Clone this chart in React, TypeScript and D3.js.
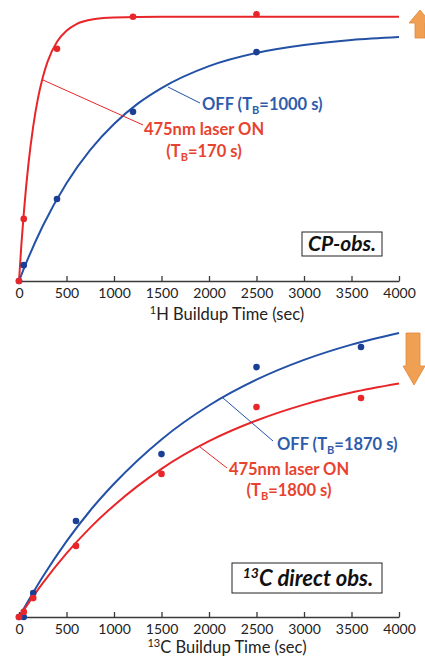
import { useRef, useEffect } from "react";
import * as d3 from "d3";

// ---- data ----
const xTicks = [0, 500, 1000, 1500, 2000, 2500, 3000, 3500, 4000];

// 1H (CP-obs.) panel: measured points
const hOnPoints: [number, number][] = [[0, 0], [50, 0.235], [400, 0.879], [1200, 1.0], [2500, 1.009]];
const hOffPoints: [number, number][] = [[0, 0], [50, 0.06], [400, 0.31], [1200, 0.64], [2500, 0.866]];
// 1H fit curves
const hOnCurve: [number, number][] = [
  [0, 0], [25, 0.137], [50, 0.255], [75, 0.357], [100, 0.445], [150, 0.586], [200, 0.692],
  [250, 0.77], [300, 0.829], [400, 0.905], [500, 0.947], [600, 0.971], [800, 0.991],
  [1000, 0.997], [1500, 1.0], [4000, 1.0],
];
const hOffCurve: [number, number][] = [
  [0, 0], [100, 0.089], [250, 0.208], [500, 0.37], [750, 0.496], [1000, 0.594], [1250, 0.671],
  [1500, 0.73], [2000, 0.813], [2500, 0.863], [3000, 0.893], [3500, 0.912], [4000, 0.923],
];

// 13C (direct obs.) panel: measured points
const cOnPoints: [number, number][] = [[0, 0], [50, 0.017], [150, 0.063], [600, 0.237], [1500, 0.477], [2500, 0.7], [3600, 0.73]];
const cOffPoints: [number, number][] = [[0, 0], [50, 0], [150, 0.08], [600, 0.32], [1500, 0.543], [2500, 0.833], [3600, 0.9]];
// 13C fit curves
const cOnCurve: [number, number][] = [
  [0, 0], [250, 0.113], [500, 0.212], [750, 0.298], [1000, 0.372], [1500, 0.494], [2000, 0.586],
  [2500, 0.655], [3000, 0.708], [3500, 0.748], [4000, 0.778],
];
const cOffCurve: [number, number][] = [
  [0, 0], [250, 0.134], [500, 0.252], [750, 0.355], [1000, 0.444], [1500, 0.592], [2000, 0.705],
  [2500, 0.791], [3000, 0.857], [3500, 0.908], [4000, 0.947],
];

const RED = "#e8262a";
const RED_TXT = "#e8432f";
const BLUE = "#2351a6";
const BLUE_DOT = "#1c3f96";
const BLUE_TXT = "#2e5cab";
const ORANGE = "#f0a052";
const FONT = "Lato, 'Open Sans', sans-serif";

export default function App() {
  const svgRef = useRef<SVGSVGElement>(null);

  useEffect(() => {
    if (!svgRef.current) return;
    const svg = d3.select(svgRef.current);
    svg.selectAll("*").remove();

    const x = d3.scaleLinear().domain([0, 4000]).range([19, 399]);

    const drawPanel = (
      baseY: number,
      y: d3.ScaleLinear<number, number>,
      onCurve: [number, number][],
      offCurve: [number, number][],
      onPts: [number, number][],
      offPts: [number, number][],
      axisLabel: string,
      labelY: number
    ) => {
      const g = svg.append("g");
      const line = d3
        .line<[number, number]>()
        .x((d) => x(d[0]))
        .y((d) => y(d[1]))
        .curve(d3.curveMonotoneX);

      // axis
      const ax = g
        .append("g")
        .attr("transform", `translate(0,${baseY})`)
        .call(
          d3.axisBottom(x)
            .tickValues(xTicks)
            .tickFormat(d3.format("d"))
            .tickSizeInner(-5)
            .tickSizeOuter(0)
            .tickPadding(7)
        );
      ax.select(".domain").attr("stroke", "#3a3a3a").attr("stroke-width", 1.5);
      ax.selectAll(".tick line").attr("stroke", "#3a3a3a").attr("stroke-width", 1.3);
      ax.selectAll(".tick text")
        .attr("font-family", FONT)
        .attr("font-size", "14px")
        .attr("fill", "#222");

      const t = g
        .append("text")
        .attr("x", 227)
        .attr("y", labelY)
        .attr("text-anchor", "middle")
        .attr("font-family", FONT)
        .attr("font-size", "16.5px")
        .attr("fill", "#222");
      t.append("tspan").attr("font-size", "11px").attr("dy", -6).text(axisLabel.split("|")[0]);
      t.append("tspan").attr("dy", 6).text(axisLabel.split("|")[1]);

      g.append("path").datum(offCurve).attr("d", line).attr("fill", "none").attr("stroke", BLUE).attr("stroke-width", 2);
      g.append("path").datum(onCurve).attr("d", line).attr("fill", "none").attr("stroke", RED).attr("stroke-width", 2);

      g.selectAll(".off-pt")
        .data(offPts)
        .enter()
        .append("circle")
        .attr("cx", (d) => x(d[0]))
        .attr("cy", (d) => y(d[1]))
        .attr("r", 3.3)
        .attr("fill", BLUE_DOT);
      g.selectAll(".on-pt")
        .data(onPts)
        .enter()
        .append("circle")
        .attr("cx", (d) => x(d[0]))
        .attr("cy", (d) => y(d[1]))
        .attr("r", 3.3)
        .attr("fill", RED);
      return g;
    };

    const yTop = d3.scaleLinear().domain([0, 1]).range([281, 16.7]);
    const yBot = d3.scaleLinear().domain([0, 1]).range([617, 317]);

    const gTop = drawPanel(281, yTop, hOnCurve, hOffCurve, hOnPoints, hOffPoints, "1|H Buildup Time (sec)", 320);
    const gBot = drawPanel(617, yBot, cOnCurve, cOffCurve, cOnPoints, cOffPoints, "13|C Buildup Time (sec)", 653);

    // annotation text with subscript B
    const tbLabel = (
      g: d3.Selection<SVGGElement, unknown, null, undefined>,
      xPos: number,
      yPos: number,
      anchor: string,
      color: string,
      pre: string,
      post: string
    ) => {
      const t = g
        .append("text")
        .attr("x", xPos)
        .attr("y", yPos)
        .attr("text-anchor", anchor)
        .attr("font-family", FONT)
        .attr("font-weight", "bold")
        .attr("font-size", "16.5px")
        .attr("fill", color);
      t.append("tspan").text(pre + "T");
      t.append("tspan").attr("font-size", "11px").attr("dy", 4).text("B");
      t.append("tspan").attr("dy", -4).text(post);
    };
    const plainLabel = (
      g: d3.Selection<SVGGElement, unknown, null, undefined>,
      xPos: number,
      yPos: number,
      color: string,
      txt: string
    ) => {
      g.append("text")
        .attr("x", xPos)
        .attr("y", yPos)
        .attr("text-anchor", "middle")
        .attr("font-family", FONT)
        .attr("font-weight", "bold")
        .attr("font-size", "16.5px")
        .attr("fill", color)
        .text(txt);
    };
    const leader = (
      g: d3.Selection<SVGGElement, unknown, null, undefined>,
      x1: number, y1: number, x2: number, y2: number, color: string
    ) => {
      g.append("line").attr("x1", x1).attr("y1", y1).attr("x2", x2).attr("y2", y2).attr("stroke", color).attr("stroke-width", 1);
    };

    // top annotations
    leader(gTop, 168, 87, 200, 103, BLUE);
    tbLabel(gTop, 202, 110, "start", BLUE_TXT, "OFF (", "=1000 s)");
    leader(gTop, 43, 80, 143, 125, RED);
    plainLabel(gTop, 204, 135, RED_TXT, "475nm laser ON");
    tbLabel(gTop, 204, 157, "middle", RED_TXT, "(", "=170 s)");

    // bottom annotations
    leader(gBot, 223, 398, 273, 441, BLUE);
    tbLabel(gBot, 277, 450, "start", BLUE_TXT, "OFF (", "=1870 s)");
    leader(gBot, 200, 447, 227, 468, RED);
    plainLabel(gBot, 289, 475, RED_TXT, "475nm laser ON");
    tbLabel(gBot, 289, 496, "middle", RED_TXT, "(", "=1800 s)");

    // boxed labels
    gTop.append("rect").attr("x", 302).attr("y", 232).attr("width", 80).attr("height", 24)
      .attr("fill", "#fff").attr("stroke", "#222").attr("stroke-width", 1);
    gTop.append("text").attr("x", 342).attr("y", 251).attr("text-anchor", "middle")
      .attr("font-family", FONT).attr("font-weight", "bold").attr("font-style", "italic")
      .attr("font-size", "21px").attr("fill", "#111").text("CP-obs.");

    gBot.append("rect").attr("x", 232).attr("y", 563).attr("width", 150).attr("height", 30)
      .attr("fill", "#fff").attr("stroke", "#222").attr("stroke-width", 1);
    const bt = gBot.append("text").attr("x", 308).attr("y", 586).attr("text-anchor", "middle")
      .attr("font-family", FONT).attr("font-weight", "bold").attr("font-style", "italic")
      .attr("font-size", "22px").attr("fill", "#111");
    bt.append("tspan").attr("font-size", "14px").attr("dy", -8).text("13");
    bt.append("tspan").attr("dy", 8).text("C direct obs.");

    // orange arrows
    const up = `M420,10 L431,23 L425,23 L425,38 L415,38 L415,23 L409,23 Z`;
    svg.append("path").attr("d", up).attr("fill", ORANGE).attr("stroke", "#e0883a").attr("stroke-width", 0.8);
    const down = `M406,333 L420,333 L420,366 L425,366 L414,385 L403,366 L406,366 Z`;
    svg.append("path").attr("d", down).attr("fill", ORANGE).attr("stroke", "#e0883a").attr("stroke-width", 0.8);
  }, []);

  return (
    <svg
      ref={svgRef}
      width={425}
      height={656}
      style={{ position: "absolute", left: 0, top: 0, background: "#fff" }}
    />
  );
}
